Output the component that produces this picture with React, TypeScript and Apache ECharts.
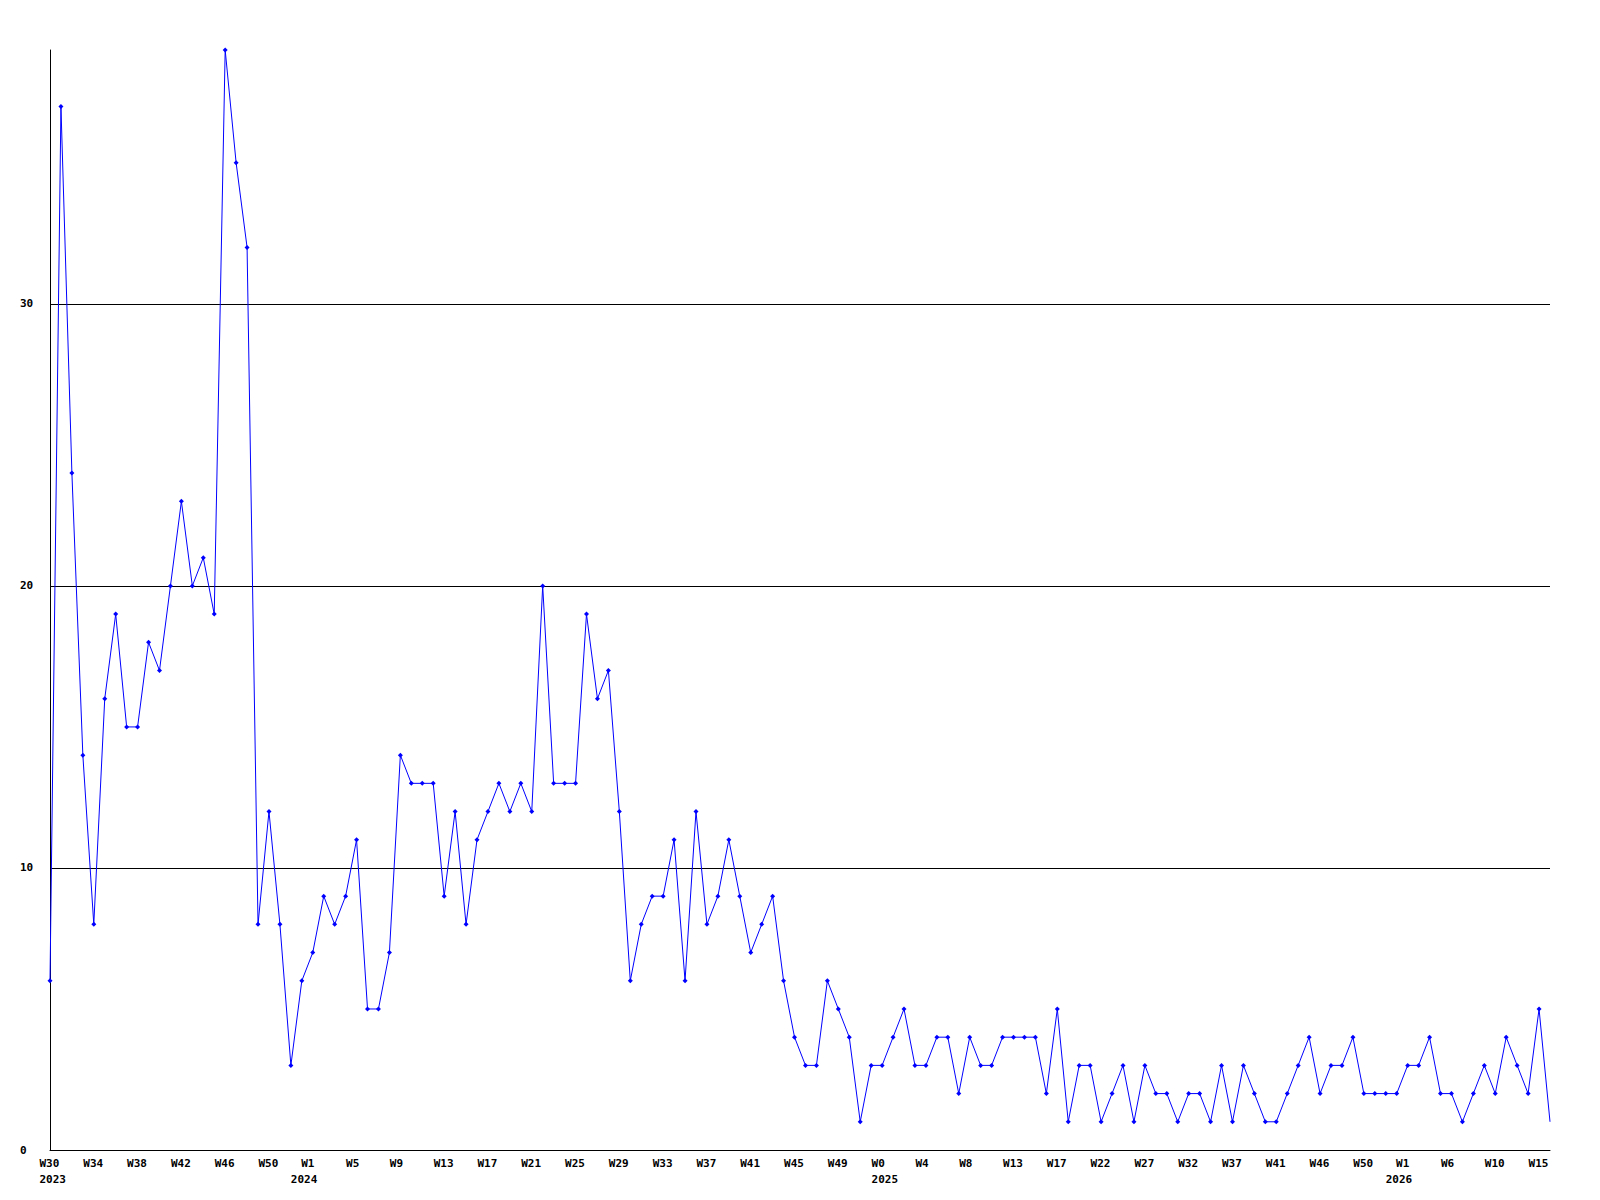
import React, { useEffect, useRef } from "react";
import * as echarts from "echarts";

// Weekly counts, one per sample (138 samples)
const values: number[] = [
  6, 37, 24, 14, 8, 16, 19, 15, 15, 18, 17, 20, 23, 20, 21, 19, 39, 35, 32, 8,
  12, 8, 3, 6, 7, 9, 8, 9, 11, 5, 5, 7, 14, 13, 13, 13, 9, 12, 8, 11,
  12, 13, 12, 13, 12, 20, 13, 13, 13, 19, 16, 17, 12, 6, 8, 9, 9, 11, 6, 12,
  8, 9, 11, 9, 7, 8, 9, 6, 4, 3, 3, 6, 5, 4, 1, 3, 3, 4, 5, 3,
  3, 4, 4, 2, 4, 3, 3, 4, 4, 4, 4, 2, 5, 1, 3, 3, 1, 2, 3, 1,
  3, 2, 2, 1, 2, 2, 1, 3, 1, 3, 2, 1, 1, 2, 3, 4, 2, 3, 3, 4,
  2, 2, 2, 2, 3, 3, 4, 2, 2, 1, 2, 3, 2, 4, 3, 2, 5, 1,
];

// Tick labels shown on every 4th sample
const weekLabels: string[] = [
  "W30", "W34", "W38", "W42", "W46", "W50", "W1", "W5", "W9", "W13", "W17", "W21",
  "W25", "W29", "W33", "W37", "W41", "W45", "W49", "W0", "W4", "W8", "W13", "W17",
  "W22", "W27", "W32", "W37", "W41", "W46", "W50", "W1", "W6", "W10", "W15",
];
// Year shown under the given tick label position
const yearTickIdx: number[] = [0, 6, 19, 31];
const yearLabels: string[] = ["2023", "2024", "2025", "2026"];

const gridLines: number[] = [10, 20, 30];

// year labels 2024/2026 sit a little further left (visual placement only)
const isWideYear = (yi: number) => yi === 1 || yi === 3;

export default function App() {
  const ref = useRef<HTMLDivElement>(null);
  useEffect(() => {
    if (!ref.current) return;
    const chart = echarts.init(ref.current, undefined, { renderer: "svg" });
    const categories = values.map((_, i) => String(i));
    const font = {
      fontFamily: "DejaVu Sans Mono",
      fontWeight: "bold" as const,
      fontSize: 11,
      color: "#000",
    };
    chart.setOption({
      animation: false,
      backgroundColor: "#fff",
      grid: { left: 50, right: 50, top: 50, bottom: 50, containLabel: false },
      xAxis: {
        type: "category",
        data: categories,
        boundaryGap: false,
        axisLine: { show: true, lineStyle: { color: "#000", width: 1 } },
        axisTick: { show: false },
        splitLine: { show: false },
        axisLabel: {
          interval: 3,
          margin: 6,
          align: "center",
          lineHeight: 15,
          formatter: (_v: string, idx: number) => {
            if (idx % 4 !== 0) return "";
            const k = idx / 4;
            const w = weekLabels[k] ?? "";
            const yi = yearTickIdx.indexOf(k);
            if (yi < 0) return "{a|" + w + "}";
            if (isWideYear(yi)) {
              return "{sp| }{a|" + w + "}{sp2| }\n{yw|" + yearLabels[yi] + "}";
            }
            return "{a|" + w + "}\n{a|" + yearLabels[yi] + "}";
          },
          rich: {
            a: { ...font, width: 21, align: "left", lineHeight: 15.5 },
            sp: { ...font, width: 6.5, lineHeight: 15.5 },
            sp2: { ...font, width: 16.5, lineHeight: 15.5 },
            yw: { ...font, width: 44, align: "left", lineHeight: 15.5 },
          },
          ...font,
        },
      },
      yAxis: {
        type: "value",
        min: 0,
        max: 39,
        interval: 10,
        axisLine: { show: true, lineStyle: { color: "#000", width: 1 } },
        axisTick: { show: false },
        splitLine: { show: false },
        axisLabel: {
          showMaxLabel: false,
          margin: 30,
          align: "left",
          ...font,
        },
      },
      series: [
        {
          type: "line",
          data: values.map((v, i) =>
            i === values.length - 1 ? { value: v, symbol: "none" } : v
          ),
          symbol: "diamond",
          symbolSize: 5,
          showAllSymbol: true,
          itemStyle: { color: "#0000ff" },
          lineStyle: { color: "#0000ff", width: 1 },
          markLine: {
            silent: true,
            symbol: ["none", "none"],
            label: { show: false },
            lineStyle: { color: "#000", type: "solid", width: 1 },
            data: gridLines.map((g) => ({ yAxis: g })),
            z: 1,
          },
        },
      ],
    });
    return () => chart.dispose();
  }, []);
  return (
    <div
      ref={ref}
      style={{ position: "absolute", left: 0, top: 0, width: 1600, height: 1200 }}
    />
  );
}
